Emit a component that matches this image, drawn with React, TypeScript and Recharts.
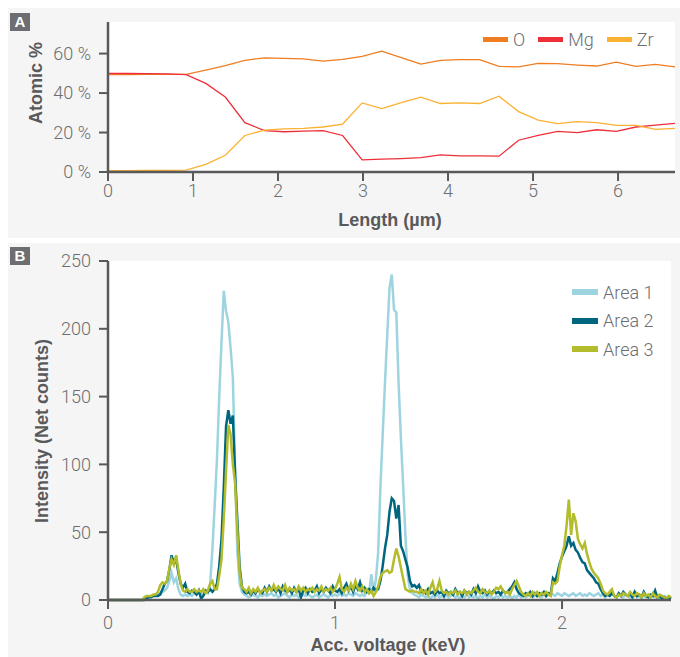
import React from "react";
import { LineChart, Line, XAxis, YAxis, CartesianGrid, Legend, Label } from "recharts";

// Panel A: line scan across the interface
const lengthUm = [0, 0.23, 0.46, 0.69, 0.92, 1.15, 1.38, 1.61, 1.84, 2.07, 2.3, 2.53, 2.76, 2.99, 3.22, 3.45, 3.68, 3.91, 4.14, 4.37, 4.6, 4.83, 5.06, 5.29, 5.52, 5.75, 5.98, 6.21, 6.44, 6.67];
const oxygen = [49.3, 49.4, 49.5, 49.5, 49.5, 51.6, 53.9, 56.6, 57.8, 57.6, 57.3, 56.2, 57.1, 58.6, 61.2, 57.9, 54.7, 56.6, 56.9, 56.9, 53.5, 53.3, 55.0, 54.9, 54.2, 53.7, 55.7, 53.5, 54.5, 53.3];
const magnesium = [50.0, 49.9, 49.8, 49.7, 49.3, 44.9, 38.0, 25.0, 21.0, 20.4, 20.7, 21.0, 18.5, 6.1, 6.5, 6.8, 7.3, 8.7, 8.2, 8.2, 8.0, 16.1, 18.5, 20.6, 20.0, 21.4, 20.6, 22.8, 23.8, 24.6];
const zirconium = [0.7, 0.7, 0.8, 0.8, 1.0, 3.9, 8.5, 18.5, 21.2, 21.9, 22.1, 22.8, 24.3, 35.0, 32.1, 35.2, 37.9, 34.7, 35.0, 34.7, 38.4, 30.6, 26.3, 24.5, 25.5, 25.0, 23.6, 23.6, 21.6, 22.1];
const elementNames = ["O", "Mg", "Zr"];
const atomicTicks = [0, 20, 40, 60];
const lengthTicks = [0, 1, 2, 3, 4, 5, 6];

// Panel B: EDS spectra, one value per 10 eV channel starting at 0 keV
const channelWidthKeV = 0.01;
const area1 = [
  0, 0, 0, 0, 0, 0, 0, 0, 0, 0,
  0, 0, 0, 0, 0, 0, 1, 2, 2, 3,
  3, 4, 4, 5, 6, 7, 9, 14, 20, 13,
  16, 8, 4, 3, 4, 3, 4, 3, 5, 4,
  5, 4, 5, 6, 5, 12, 38, 70, 104, 150,
  190, 228, 213, 205, 186, 164, 95, 35, 12, 6,
  4, 3, 2, 3, 4, 3, 2, 4, 3, 4,
  3, 4, 5, 3, 4, 2, 3, 4, 5, 3,
  2, 4, 3, 4, 2, 3, 4, 3, 4, 3,
  2, 3, 4, 2, 3, 4, 3, 2, 4, 3,
  4, 3, 5, 3, 4, 3, 5, 4, 3, 5,
  4, 3, 4, 3, 6, 5, 19, 6, 15, 35,
  83, 122, 160, 195, 230, 240, 214, 212, 160, 120,
  85, 48, 18, 8, 5, 4, 3, 2, 4, 3,
  2, 3, 1, 3, 2, 4, 2, 3, 2, 4,
  2, 3, 4, 2, 3, 1, 3, 2, 4, 2,
  3, 2, 3, 1, 3, 2, 4, 2, 3, 2,
  1, 3, 2, 4, 2, 3, 2, 3, 1, 3,
  2, 4, 2, 3, 2, 3, 4, 2, 3, 4,
  3, 2, 4, 3, 4, 5, 4, 3, 5, 4,
  3, 5, 4, 3, 4, 5, 3, 4, 5, 3,
  4, 3, 5, 4, 3, 4, 5, 3, 4, 2,
  4, 3, 5, 3, 2, 4, 3, 2, 4, 3,
  2, 3, 5, 2, 3, 2, 3, 2, 4, 2,
  3, 2, 3, 1, 2, 3, 2, 1, 2,
];
const area2 = [
  0, 0, 0, 0, 0, 0, 0, 0, 0, 0,
  0, 0, 0, 0, 0, 0, 0, 1, 2, 2,
  3, 3, 3, 4, 8, 12, 14, 22, 33, 27,
  30, 20, 12, 9, 12, 6, 5, 7, 6, 4,
  7, 1, 3, 7, 6, 8, 6, 8, 12, 25,
  45, 83, 128, 140, 130, 136, 92, 58, 24, 10,
  6, 5, 6, 4, 7, 5, 8, 6, 5, 9,
  6, 10, 7, 8, 6, 9, 5, 10, 7, 6,
  8, 5, 9, 6, 8, 2, 7, 9, 5, 8,
  6, 7, 10, 5, 8, 6, 9, 7, 5, 10,
  7, 6, 8, 5, 9, 12, 7, 10, 6, 11,
  8, 13, 7, 9, 6, 8, 6, 9, 7, 8,
  14, 25, 38, 48, 65, 75, 73, 60, 70, 40,
  36, 30, 24, 14, 10, 11, 9, 11, 6, 7,
  5, 8, 5, 6, 4, 7, 5, 6, 3, 7,
  5, 6, 4, 8, 5, 6, 3, 7, 5, 6,
  4, 8, 5, 10, 6, 5, 7, 4, 6, 5,
  7, 5, 6, 4, 7, 5, 6, 8, 10, 13,
  8, 5, 4, 3, 5, 4, 6, 3, 5, 3,
  5, 4, 6, 3, 5, 4, 16, 14, 20, 27,
  32, 36, 40, 47, 40, 42, 37, 35, 31, 28,
  27, 22, 20, 18, 16, 13, 12, 8, 5, 3,
  4, 3, 5, 3, 2, 5, 3, 6, 4, 3,
  5, 2, 6, 3, 4, 2, 6, 3, 2, 4,
  3, 7, 2, 3, 1, 2, 1, 2, 1,
];
const area3 = [
  0, 0, 0, 0, 0, 0, 0, 0, 0, 0,
  0, 0, 0, 0, 0, 0, 2, 3, 3, 3,
  4, 4, 6, 11, 13, 12, 14, 23, 30, 26,
  33, 22, 12, 7, 6, 8, 6, 6, 8, 6,
  7, 6, 8, 5, 7, 12, 14, 8, 8, 18,
  30, 60, 95, 129, 122, 100, 86, 50, 20, 9,
  8, 6, 9, 5, 8, 6, 9, 5, 7, 8,
  6, 9, 7, 11, 7, 10, 8, 7, 11, 6,
  9, 7, 8, 6, 10, 7, 9, 6, 8, 7,
  9, 6, 8, 7, 10, 6, 8, 7, 9, 6,
  8, 12, 17, 8, 6, 9, 7, 12, 8, 14,
  9, 7, 10, 6, 8, 5, 7, 3, 6, 10,
  17, 20, 21, 22, 20, 21, 30, 38, 32, 24,
  16, 8, 7, 6, 7, 6, 6, 5, 8, 5,
  7, 4, 9, 13, 6, 8, 14, 7, 5, 6,
  4, 6, 5, 7, 4, 6, 5, 7, 4, 6,
  5, 7, 9, 6, 5, 8, 6, 5, 7, 4,
  6, 9, 8, 10, 7, 5, 6, 4, 8, 11,
  14, 10, 6, 4, 3, 5, 3, 6, 4, 6,
  3, 5, 4, 6, 4, 3, 13, 12, 14, 25,
  33, 40, 55, 74, 48, 64, 58, 45, 41, 38,
  42, 34, 28, 23, 20, 18, 16, 12, 7, 5,
  4, 6, 8, 3, 2, 4, 3, 5, 4, 3,
  6, 4, 3, 5, 4, 2, 5, 3, 4, 2,
  5, 3, 2, 4, 3, 2, 1, 3, 2,
];
const areaNames = ["Area 1", "Area 2", "Area 3"];
const intensityTicks = [0, 50, 100, 150, 200, 250];
const voltageTicks = [0, 1, 2];

const profileRows = lengthUm.map((x, i) => ({ x, O: oxygen[i], Mg: magnesium[i], Zr: zirconium[i] }));
const spectrumRows = area1.map((v, i) => ({
  keV: Number((i * channelWidthKeV).toFixed(2)),
  a1: v,
  a2: area2[i],
  a3: area3[i],
}));

const axisColor = "#58595b";
const labelColor = "#6d6e71";
const panelBg = "#f5f5f5";
const tickFont = { fill: labelColor, fontSize: 18, fontFamily: "Roboto", fontWeight: 300 };
const titleStyle = { fill: axisColor, fontSize: 18, fontWeight: 700, fontFamily: "Liberation Sans, Arial" };

const Badge = ({ letter, top }: { letter: string; top: number }) => (
  <div
    style={{
      position: "absolute", left: 2, top, width: 20, height: 18, background: "#6d6e71", color: "#fff",
      fontFamily: "Liberation Sans, Arial", fontSize: 15, fontWeight: 600, lineHeight: "18px", textAlign: "center",
    }}
  >
    {letter}
  </div>
);

const AxisTitle = ({ x, y, text, vertical }: { x: number; y: number; text: string; vertical?: boolean }) => (
  <text x={x} y={y} textAnchor="middle" dominantBaseline="central" transform={vertical ? `rotate(-90 ${x} ${y})` : undefined} style={titleStyle}>
    {text}
  </text>
);

// keep legend entries in series order
const ordered = (payload: any[], names: string[]) =>
  [...(payload || [])].sort((a, b) => names.indexOf(a.value) - names.indexOf(b.value));

const rowLegend = (props: any) => (
  <div style={{ display: "flex", alignItems: "center", fontFamily: "Roboto", fontWeight: 300, fontSize: 18, color: labelColor }}>
    {ordered(props.payload, elementNames).map((p: any) => (
      <div key={p.value} style={{ display: "flex", alignItems: "center", marginRight: 13 }}>
        <span style={{ display: "inline-block", width: 25, height: 5, background: p.color, marginRight: 5 }} />
        <span>{p.value}</span>
      </div>
    ))}
  </div>
);

const columnLegend = (props: any) => (
  <div style={{ fontFamily: "Roboto", fontWeight: 300, fontSize: 18, color: labelColor }}>
    {ordered(props.payload, areaNames).map((p: any) => (
      <div key={p.value} style={{ display: "flex", alignItems: "center", height: 28.5 }}>
        <span style={{ display: "inline-block", width: 26, height: 6, background: p.color, marginRight: 5 }} />
        <span>{p.value}</span>
      </div>
    ))}
  </div>
);

export default function App() {
  return (
    <div style={{ position: "absolute", left: 0, top: 0, width: 680, height: 657, overflow: "hidden", background: "#fff" }}>
      <div style={{ position: "absolute", left: 8, top: 8, width: 672, height: 230, background: panelBg }}>
        <LineChart width={672} height={230} data={profileRows} margin={{ top: 14, right: 5, bottom: 0, left: 0 }}>
          <CartesianGrid horizontal={false} vertical={false} fill="#ffffff" stroke="none" />
          <XAxis
            type="number" dataKey="x" domain={[0, 6.67]} ticks={lengthTicks} height={66}
            axisLine={{ stroke: axisColor, strokeWidth: 2.5 }} tickLine={{ stroke: axisColor, strokeWidth: 2 }}
            tickSize={9} tickMargin={3} tick={tickFont}
          >
            <Label content={() => <AxisTitle x={382} y={212} text="Length (µm)" />} />
          </XAxis>
          <YAxis
            type="number" domain={[0, 76]} ticks={atomicTicks} width={100} tickFormatter={(v) => `${v} %`}
            axisLine={{ stroke: axisColor, strokeWidth: 2.5 }} tickLine={{ stroke: axisColor, strokeWidth: 2 }}
            tickSize={9} tickMargin={8} tick={tickFont}
          >
            <Label content={() => <AxisTitle x={28} y={75} text="Atomic %" vertical />} />
          </YAxis>
          <Legend
            layout="horizontal" verticalAlign="middle" align="center" content={rowLegend}
            wrapperStyle={{ top: 21, left: 475, width: "auto", height: "auto" }}
          />
          <Line type="linear" dataKey="O" name="O" stroke="#ef7d22" strokeWidth={1.3} dot={false} isAnimationActive={false} />
          <Line type="linear" dataKey="Mg" name="Mg" stroke="#ee2f3a" strokeWidth={1.3} dot={false} isAnimationActive={false} />
          <Line type="linear" dataKey="Zr" name="Zr" stroke="#fbb131" strokeWidth={1.3} dot={false} isAnimationActive={false} />
        </LineChart>
        <Badge letter="A" top={5} />
      </div>
      <div style={{ position: "absolute", left: 8, top: 243, width: 672, height: 414, background: panelBg }}>
        <LineChart width={672} height={414} data={spectrumRows} margin={{ top: 18, right: 9, bottom: 0, left: 0 }}>
          <CartesianGrid horizontal={false} vertical={false} fill="#ffffff" stroke="none" />
          <XAxis
            type="number" dataKey="keV" domain={[0, 2.48]} ticks={voltageTicks} height={57}
            axisLine={{ stroke: axisColor, strokeWidth: 2.5 }} tickLine={{ stroke: axisColor, strokeWidth: 2 }}
            tickSize={9} tickMargin={7} tick={tickFont}
          >
            <Label content={() => <AxisTitle x={380} y={402} text="Acc. voltage (keV)" />} />
          </XAxis>
          <YAxis
            type="number" domain={[0, 250]} ticks={intensityTicks} width={100}
            axisLine={{ stroke: axisColor, strokeWidth: 2.5 }} tickLine={{ stroke: axisColor, strokeWidth: 2 }}
            tickSize={9} tickMargin={8} tick={tickFont}
          >
            <Label content={() => <AxisTitle x={34} y={188} text="Intensity (Net counts)" vertical />} />
          </YAxis>
          <Legend
            layout="horizontal" verticalAlign="middle" align="center" content={columnLegend}
            wrapperStyle={{ top: 35, left: 564, width: "auto", height: "auto" }}
          />
          <Line type="linear" dataKey="a1" name="Area 1" stroke="#9dd4e0" strokeWidth={2.5} dot={false} isAnimationActive={false} />
          <Line type="linear" dataKey="a2" name="Area 2" stroke="#00667f" strokeWidth={2.5} dot={false} isAnimationActive={false} />
          <Line type="linear" dataKey="a3" name="Area 3" stroke="#b3bc2b" strokeWidth={2.5} dot={false} isAnimationActive={false} />
        </LineChart>
        <Badge letter="B" top={4} />
      </div>
    </div>
  );
}
